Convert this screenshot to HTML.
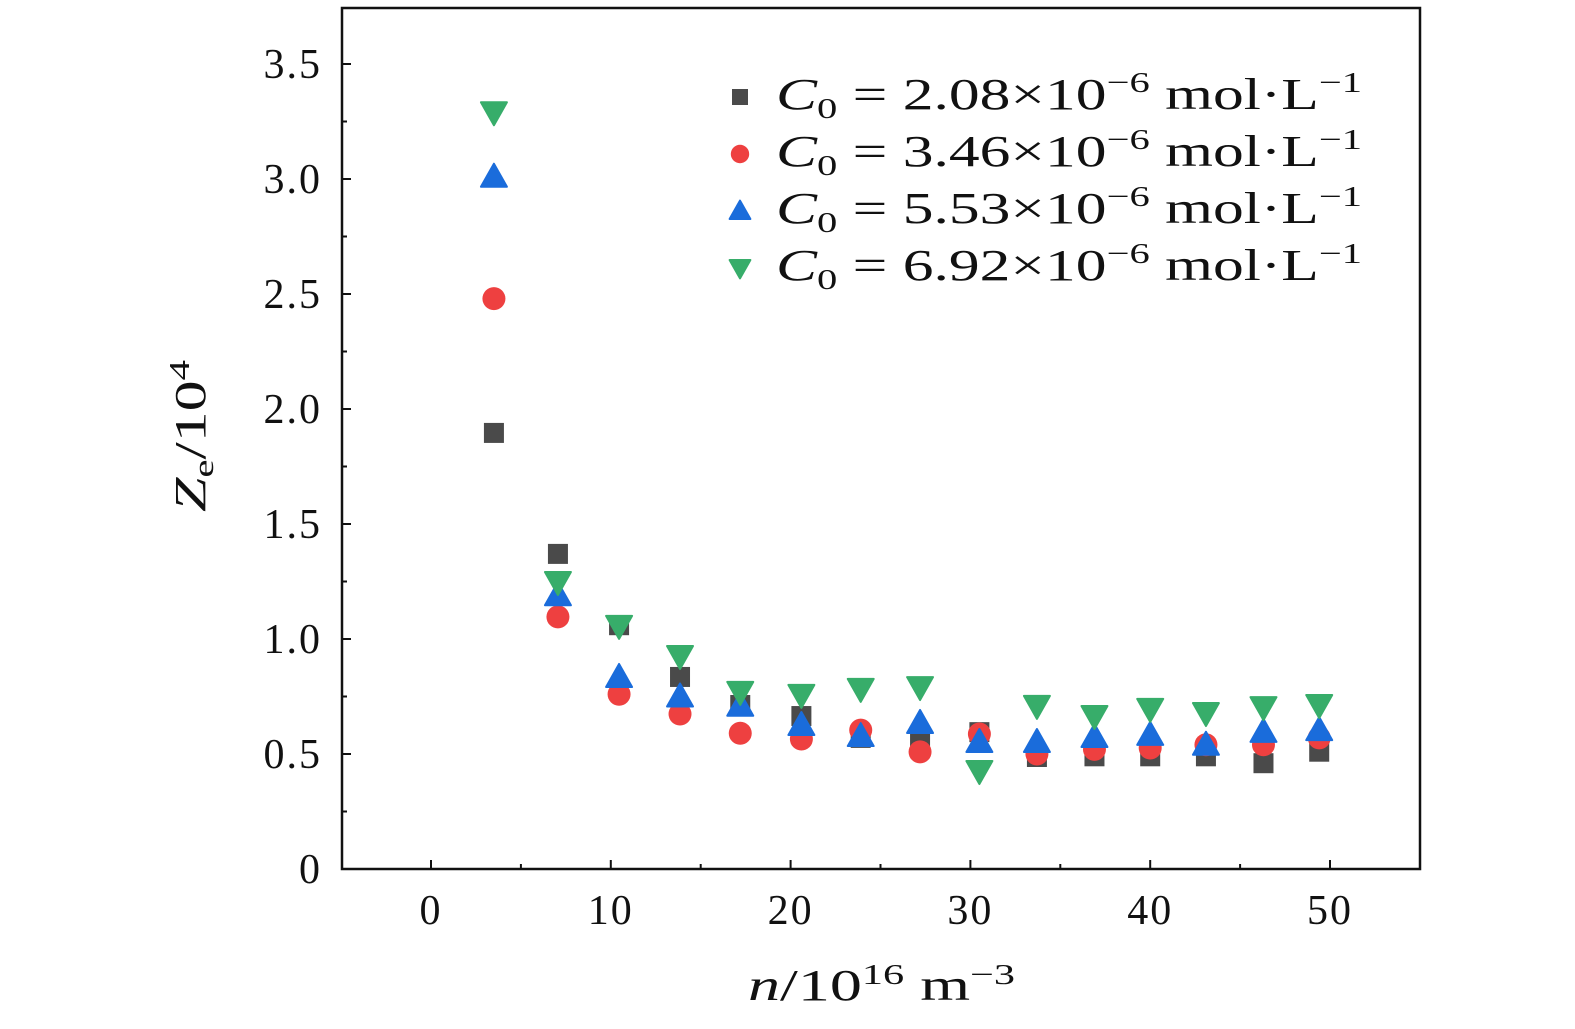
<!DOCTYPE html>
<html><head><meta charset="utf-8"><style>
body{margin:0;background:#fff}
svg text{font-family:"Liberation Serif","DejaVu Serif",serif;fill:#111}
</style></head><body>
<svg id="chart" width="1575" height="1024" viewBox="0 0 1575 1024" xmlns="http://www.w3.org/2000/svg">
<rect x="342" y="8" width="1078" height="861" fill="none" stroke="#111" stroke-width="2.5"/>
<g id="ticks"></g><g id="marks"></g>
<text x="748" y="1000" font-size="44" textLength="267" lengthAdjust="spacingAndGlyphs"><tspan font-style="italic">n</tspan>/10<tspan font-size="29" dy="-16">16</tspan><tspan dy="16"> m</tspan><tspan font-size="29" dy="-16">−3</tspan></text>
<text transform="translate(205,512) rotate(-90)" font-size="44" textLength="152" lengthAdjust="spacingAndGlyphs"><tspan font-style="italic">Z</tspan><tspan font-size="29" dy="8">e</tspan><tspan dy="-8">/10</tspan><tspan font-size="29" dy="-16">4</tspan></text>
<g id="legend"></g>
</svg>
<script>
const xs=[3.5,7.06,10.46,13.85,17.2,20.6,23.9,27.2,30.5,33.7,36.9,40.0,43.1,46.3,49.4];
const s1=[1.896,1.37,1.06,0.835,0.713,0.665,0.57,0.57,0.595,0.487,0.49,0.49,0.49,0.46,0.51];
const s2=[2.48,1.096,0.76,0.674,0.59,0.565,0.604,0.509,0.587,0.50,0.52,0.526,0.54,0.54,0.57];
const s3=[3.01,1.19,0.835,0.75,0.71,0.626,0.578,0.635,0.552,0.552,0.574,0.583,0.54,0.596,0.604];
const s4=[3.29,1.248,1.057,0.926,0.77,0.757,0.783,0.791,0.426,0.709,0.665,0.696,0.678,0.704,0.713];
const xTicks=[0,10,20,30,40,50];
const yTicks=[0,0.5,1.0,1.5,2.0,2.5,3.0,3.5];
const yLabels=["0","0.5","1.0","1.5","2.0","2.5","3.0","3.5"];
const legendLabels=["2.08","3.46","5.53","6.92"];
const NS="http://www.w3.org/2000/svg";
const X=v=>431+v*17.98, Y=v=>869-v*230;
function el(t,a,p){const e=document.createElementNS(NS,t);for(const k in a)e.setAttribute(k,a[k]);p.appendChild(e);return e;}
const tg=document.getElementById('ticks');
for(let v=0;v<=50;v+=5){const big=v%10===0;const t=el('line',{x1:X(v),x2:X(v),y1:869,y2:869-(big?9:5),stroke:'#111','stroke-width':2},tg);

}
xTicks.forEach(v=>{const t=el('text',{x:X(v),y:924,'font-size':42,'text-anchor':'middle','letter-spacing':2},tg);t.textContent=v;

});
for(let i=0;i<=14;i++){const v=i*0.25;const big=i%2===0;const t=el('line',{x1:342,x2:342+(big?9:5),y1:Y(v),y2:Y(v),stroke:'#111','stroke-width':2},tg);

}
yTicks.forEach((v,i)=>{const t=el('text',{x:322,y:Y(v)+14,'font-size':42,'text-anchor':'end','letter-spacing':2},tg);t.textContent=yLabels[i];

});
const colors=['#4a4a4a','#ee4040','#1a6cdb','#37ad6a'];
function marker(k,cx,cy,p,sc){sc=sc||1;
 if(k===0)return el('rect',{x:cx-10*sc,y:cy-10*sc,width:20*sc,height:20*sc,fill:colors[0]},p);
 if(k===1)return el('circle',{cx:cx,cy:cy,r:11.5*sc,fill:colors[1]},p);
 if(k===2)return el('polygon',{points:`${cx},${cy-13*sc} ${cx+13*sc},${cy+10*sc} ${cx-13*sc},${cy+10*sc}`,fill:colors[2],'stroke-linejoin':'round',stroke:colors[2],'stroke-width':2},p);
 return el('polygon',{points:`${cx},${cy+13*sc} ${cx+13*sc},${cy-10*sc} ${cx-13*sc},${cy-10*sc}`,fill:colors[3],'stroke-linejoin':'round',stroke:colors[3],'stroke-width':2},p);}
const mg=document.getElementById('marks');
[s1,s2,s3,s4].forEach((s,k)=>s.forEach((v,i)=>{const m=marker(k,X(xs[i]),Y(v),mg);

}));
const lg=document.getElementById('legend');
legendLabels.forEach((l,i)=>{const y=97+i*57;const m=marker(i,740,y,lg,0.8);


const t=el('text',{x:776,y:y+12,'font-size':44,textLength:586,lengthAdjust:'spacingAndGlyphs'},lg);


t.innerHTML=`<tspan font-style="italic">C</tspan><tspan font-size="29" dy="9">0</tspan><tspan dy="-9"> = ${l}×10</tspan><tspan font-size="29" dy="-17">−6</tspan><tspan dy="17"> mol·L</tspan><tspan font-size="29" dy="-17">−1</tspan>`;});
</script>
</body></html>
